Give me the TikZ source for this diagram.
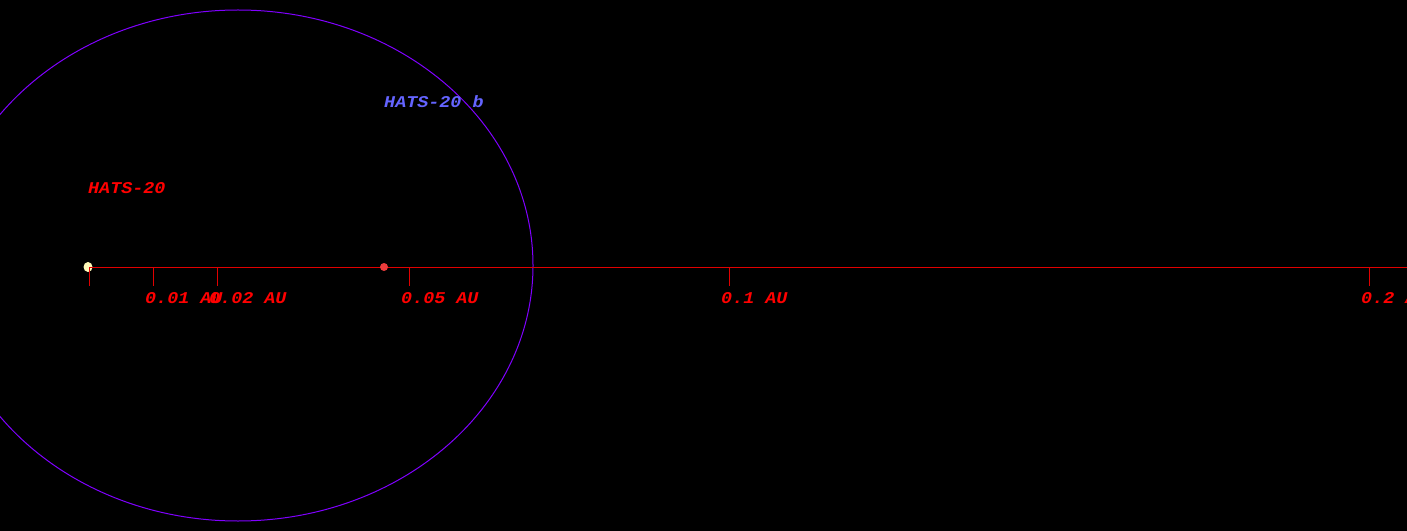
\documentclass[tikz,border=0pt]{standalone}
\usepackage{fontspec}
\setmonofont[FakeStretch=1.12]{Liberation Mono}
\usetikzlibrary{positioning,shapes.geometric}
\definecolor{orbitviolet}{RGB}{128,0,255}
\definecolor{axisred}{RGB}{225,0,0}
\definecolor{labelred}{RGB}{255,0,0}
\definecolor{planetblue}{RGB}{100,100,255}
\definecolor{starcream}{RGB}{255,250,185}
\definecolor{planetred}{RGB}{235,60,60}

\begin{document}
\begin{tikzpicture}[
    x=1bp, y=-1bp,
    font=\ttfamily\bfseries\itshape\fontsize{16.5}{16.5}\selectfont,
    orbit/.style={draw=orbitviolet, line width=1bp},
    axis/.style={draw=axisred, line width=1bp},
    tick/.style={draw=axisred, line width=1bp},
    ticklabel/.style={anchor=west, inner sep=0pt, text=labelred},
    bodylabel/.style={anchor=west, inner sep=0pt}
]

% === BACKGROUND ===
\fill[black] (0,0) rectangle (1407,531);
\clip (0,0) rectangle (1407,531);

% === ORBIT ===
\draw[orbit] (238,265.5) ellipse [x radius=295, y radius=255.5];

% === AXIS ===
\node[ellipse, fill=starcream, inner sep=0pt, minimum width=9bp, minimum height=10bp] (star) at (88,267) {};
\coordinate (axisstart) at (89,267);
\coordinate (axisend) at (1407,267);
\draw[axis] (axisstart) -- (axisend);
\draw[tick] (axisstart) -- ++(0,18.5);

% ticks and distance labels
\foreach \tx/\tlab in {153/0.01 AU, 217/0.02 AU, 409/0.05 AU, 729/0.1 AU, 1369/0.2 AU}{
    \draw[tick] (\tx,267) -- (\tx,285.5);
    \node[ticklabel] at (\tx-8,298) {\tlab};
}

% === BODIES ===
\node[circle, fill=planetred, inner sep=0pt, minimum size=8bp] (planet) at (384,267) {};

% === NAMES ===
\node[bodylabel, text=planetblue] (planetname) at (384,102) {HATS-20 b};
\node[bodylabel, text=labelred] (starname) at (88,188) {HATS-20};

\end{tikzpicture}
\end{document}
